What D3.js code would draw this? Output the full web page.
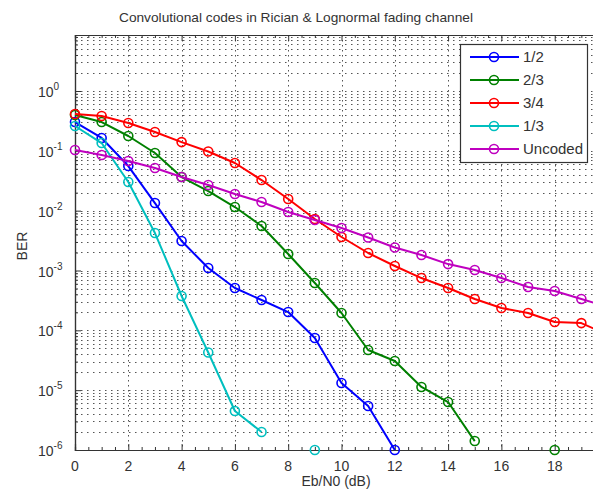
<!DOCTYPE html>
<html><head><meta charset="utf-8">
<script src="https://cdn.jsdelivr.net/npm/d3@7"></script>
<style>
html,body{margin:0;padding:0;background:#fff;overflow:hidden;}
text{font-family:"Liberation Sans",Arial,Helvetica,sans-serif;fill:#333;}
</style></head>
<body>
<svg id="chart" width="593" height="495"></svg>
<script>
// ---------- data ----------
const ebn0 = [0,1,2,3,4,5,6,7,8,9,10,11,12,13,14,15,16,17,18,19,20];
const rate12 = [0.303,0.164,0.0557,0.0134,0.00311,0.0011,5.1e-4,3.21e-4,2.02e-4,7.44e-5,1.32e-5,5.43e-6,1e-6,null,null,null,null,null,null,null,null];
const rate23 = [0.397,0.303,0.177,0.092,0.0365,0.0213,0.0115,0.00554,0.00189,6.18e-4,1.95e-4,4.69e-5,3.07e-5,1.13e-5,6.34e-6,1.41e-6,null,null,1e-6,null,null];
const rate34 = [0.413,0.382,0.292,0.206,0.14,0.0975,0.0626,0.0325,0.01567,0.00726,0.00363,0.00196,0.00119,7.48e-4,5.1e-4,3.34e-4,2.36e-4,1.95e-4,1.38e-4,1.32e-4,8.4e-5];
const rate13 = [0.26,0.135,0.0301,0.00423,3.75e-4,4.26e-5,4.48e-6,2.0e-6,null,1e-6,null,null,null,null,null,null,null,null,null,null,null];
const uncoded = [0.103,0.0852,0.0676,0.0516,0.0365,0.0268,0.019,0.01396,0.0095,0.00698,0.00513,0.00356,0.00242,0.00182,0.00128,0.00102,7.49e-4,5.3e-4,4.54e-4,3.34e-4,2.45e-4];
const seriesNames = ["1/2","2/3","3/4","1/3","Uncoded"];
const seriesColors = ["#0000ff","#008000","#ff0000","#00bfbf","#bf00bf"];
const xTickValues = [0,2,4,6,8,10,12,14,16,18,20];
const yDecades = [-6,-5,-4,-3,-2,-1,0];
const titleText = "Convolutional codes in Rician & Lognormal fading channel";
const xLabelText = "Eb/N0 (dB)";
const yLabelText = "BER";

// ---------- layout ----------
const svg = d3.select("#chart");
const pL = 75, pR = 608, pT = 35, pB = 450;
const yTop = Math.pow(10, (91 - 35) / 59.83);
const x = d3.scaleLinear().domain([0, 20]).range([pL, pR]);
const y = d3.scaleLog().domain([1e-6, yTop]).range([pB, pT]);

// grid
const grid = svg.append("g");
const minorVals = [];
yDecades.forEach(k => { for (let m = 1; m <= 9; m++) { const v = m * Math.pow(10, k); if (v <= yTop && v > 1e-6) minorVals.push(v); } });
grid.selectAll("line.h").data(minorVals).join("line")
  .attr("x1", pL).attr("x2", pR)
  .attr("y1", d => Math.round(y(d)) + 0.5).attr("y2", d => Math.round(y(d)) + 0.5)
  .attr("stroke", "#555").attr("stroke-width", 1).attr("stroke-dasharray", "1.5,4.5");
grid.selectAll("line.v").data(xTickValues.filter(d => d > 0)).join("line")
  .attr("x1", d => Math.round(x(d)) + 0.5).attr("x2", d => Math.round(x(d)) + 0.5)
  .attr("y1", pT).attr("y2", pB)
  .attr("stroke", "#555").attr("stroke-width", 1).attr("stroke-dasharray", "1.5,3.5");

// axes (MATLAB style, ticks inside)
const xMinor = [];
xTickValues.forEach(t => { [0.5, 1, 1.5].forEach(o => { if (t + o < 20) xMinor.push(t + o); }); });
const axB = svg.append("g").attr("transform", `translate(0,${pB})`)
  .call(d3.axisBottom(x).tickValues(xTickValues).tickSize(-6).tickFormat(""));
axB.append("g").call(d3.axisBottom(x).tickValues(xMinor).tickSize(-3).tickFormat(""));
const axT = svg.append("g").attr("transform", `translate(0,${pT})`)
  .call(d3.axisTop(x).tickValues(xTickValues).tickSize(-6).tickFormat(""));
axT.append("g").call(d3.axisTop(x).tickValues(xMinor).tickSize(-3).tickFormat(""));
const majorY = yDecades.map(k => Math.pow(10, k));
const axL = svg.append("g").attr("transform", `translate(${pL},0)`)
  .call(d3.axisLeft(y).tickValues(majorY).tickSize(-6).tickFormat(""));
axL.append("g").call(d3.axisLeft(y).tickValues(minorVals.filter(v => majorY.indexOf(v) < 0)).tickSize(-3).tickFormat(""));
svg.selectAll(".domain").attr("stroke", "#333").attr("stroke-width", 1.2);
svg.selectAll(".tick line").attr("stroke", "#333");

// tick labels
svg.append("g").selectAll("text").data(xTickValues.filter(d => x(d) < 593)).join("text")
  .attr("x", d => x(d)).attr("y", 471).attr("text-anchor", "middle")
  .attr("font-size", 14).text(d => d);
const yl = svg.append("g").selectAll("text").data(yDecades).join("text")
  .attr("x", 38).attr("y", d => y(Math.pow(10, d)) + 6).attr("font-size", 14);
yl.append("tspan").text("10");
yl.append("tspan").attr("dy", -7).attr("font-size", 10).text(d => d);

// axis titles
svg.append("text").attr("x", 296).attr("y", 22).attr("text-anchor", "middle")
  .attr("font-size", 13).attr("textLength", 354).attr("lengthAdjust", "spacingAndGlyphs").text(titleText);
svg.append("text").attr("x", 336).attr("y", 486).attr("text-anchor", "middle")
  .attr("font-size", 14).text(xLabelText);
svg.append("text").attr("transform", "translate(27,246) rotate(-90)").attr("text-anchor", "middle")
  .attr("font-size", 14).text(yLabelText);

// series
const allSeries = [rate12, rate23, rate34, rate13, uncoded];
const line = d3.line().defined(d => d.v !== null).x(d => x(d.x)).y(d => y(d.v));
const plot = svg.append("g");
allSeries.forEach((vals, i) => {
  const pts = ebn0.map((e, j) => ({x: e, v: vals[j]}));
  plot.append("path").datum(pts).attr("d", line).attr("fill", "none")
    .attr("stroke", seriesColors[i]).attr("stroke-width", 2).attr("stroke-linejoin", "round");
  plot.append("g").selectAll("circle").data(pts.filter(d => d.v !== null)).join("circle")
    .attr("cx", d => x(d.x)).attr("cy", d => y(d.v)).attr("r", 4.5)
    .attr("fill", "none").attr("stroke", seriesColors[i]).attr("stroke-width", 1.6);
});

// legend
const lg = svg.append("g");
lg.append("rect").attr("x", 460.5).attr("y", 44.5).attr("width", 127).attr("height", 118)
  .attr("fill", "#fff").attr("stroke", "#333").attr("stroke-width", 1.2);
seriesNames.forEach((n, i) => {
  const ry = 57 + i * 23;
  lg.append("line").attr("x1", 470).attr("x2", 519).attr("y1", ry).attr("y2", ry)
    .attr("stroke", seriesColors[i]).attr("stroke-width", 2);
  lg.append("circle").attr("cx", 494).attr("cy", ry).attr("r", 4.5).attr("fill", "none")
    .attr("stroke", seriesColors[i]).attr("stroke-width", 1.6);
  lg.append("text").attr("x", 523).attr("y", ry + 5).attr("font-size", 15).text(n);
});
</script>
</body></html>
